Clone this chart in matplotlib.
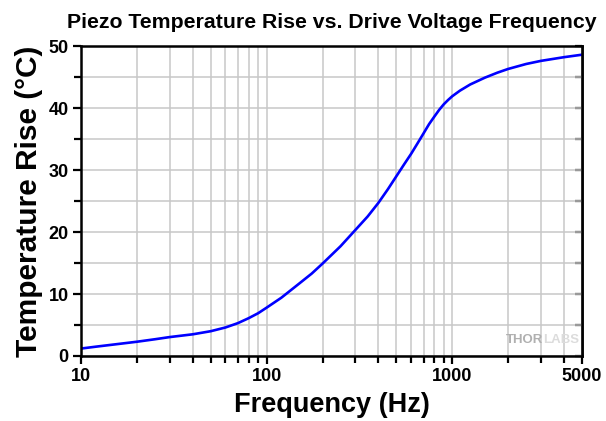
import numpy as np
import matplotlib
matplotlib.use("Agg")
import matplotlib.pyplot as plt
from matplotlib.ticker import FixedLocator, LogLocator, NullFormatter, MultipleLocator

plt.rcParams['font.family'] = ['Liberation Sans', 'DejaVu Sans']

# values
freq_hz = [10, 12, 15, 20, 25, 30, 40, 50, 60, 70, 80, 90, 100, 120, 150, 175, 200,
           250, 300, 350, 400, 450, 500, 550, 600, 650, 700, 750, 800, 850, 900, 950,
           1000, 1100, 1250, 1500, 1750, 2000, 2500, 3000, 4000, 5000]
temp_rise = [1.2, 1.5, 1.85, 2.3, 2.7, 3.05, 3.5, 4.0, 4.6, 5.3, 6.1, 6.9, 7.8, 9.4,
             11.7, 13.3, 14.9, 17.7, 20.3, 22.5, 24.7, 26.9, 29.0, 30.9, 32.6, 34.3,
             35.9, 37.4, 38.6, 39.7, 40.6, 41.3, 41.9, 42.8, 43.8, 44.9, 45.7, 46.3,
             47.1, 47.6, 48.2, 48.6]

x_major = [10, 100, 1000, 5000]
x_labels = ['10', '100', '1000', '5000']

fig = plt.figure(figsize=(6.06, 4.21), dpi=100)
ax = fig.add_axes([0.1337, 0.1544, 0.8267, 0.7363])

ax.plot(freq_hz, temp_rise, color='#0000ff', lw=1.9, zorder=3)

ax.set_xscale('log')
ax.set_xlim(10, 5000)
ax.set_ylim(0, 50)

ax.xaxis.set_major_locator(FixedLocator(x_major))
ax.set_xticklabels(x_labels)
ax.xaxis.set_minor_locator(LogLocator(base=10, subs=np.arange(2, 10)))
ax.xaxis.set_minor_formatter(NullFormatter())
ax.yaxis.set_major_locator(MultipleLocator(10))
ax.yaxis.set_minor_locator(MultipleLocator(5))

ax.grid(True, which='both', color='#c8c8c8', lw=1.1, zorder=0)

for s in ax.spines.values():
    s.set_linewidth(1.8)
    s.set_zorder(4)

ax.tick_params(which='both', direction='out', width=1.6, colors='black')
ax.tick_params(which='major', length=6, labelsize=13, pad=3)
ax.tick_params(which='minor', length=5)
for lab in ax.get_xticklabels() + ax.get_yticklabels():
    lab.set_fontweight('bold')

# inward ticks on the right side
sec = ax.secondary_yaxis('right')
sec.yaxis.set_major_locator(MultipleLocator(5))
sec.tick_params(direction='in', length=5, width=1.6, labelright=False)
sec.spines['right'].set_linewidth(1.8)

ax.set_xlabel('Frequency (Hz)', fontsize=19.5, fontweight='bold', labelpad=5)
ax.set_ylabel('Temperature Rise (°C)', fontsize=21.5, fontweight='bold', labelpad=4)
ax.set_title('Piezo Temperature Rise vs. Drive Voltage Frequency',
             fontsize=15.3, fontweight='bold', pad=13)

# watermark
ax.text(0.922, 0.052, 'THOR', transform=ax.transAxes, ha='right', va='center',
        fontsize=9.5, fontweight='bold', color='#b0b0b0', zorder=2)
ax.text(0.922, 0.052, 'LABS', transform=ax.transAxes, ha='left', va='center',
        fontsize=9.5, fontweight='bold', color='#dcdcdc', zorder=2)

fig.savefig('out.png', dpi=100)
